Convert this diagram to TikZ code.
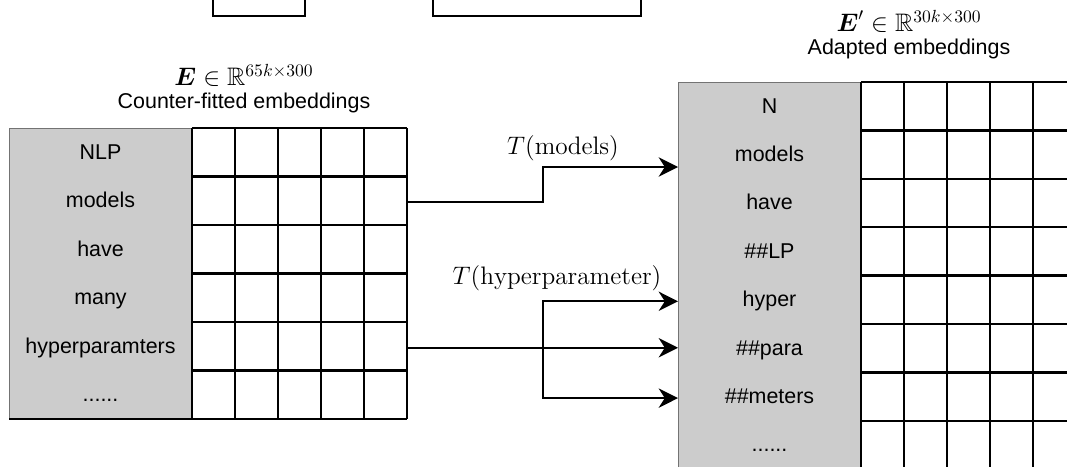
\documentclass[tikz,border=0pt]{standalone}
\usepackage{amsmath,amssymb}
\usepackage{fontspec}
\newfontfamily\arialfont{Liberation Sans}
\usetikzlibrary{arrows.meta}

\newcommand\moretoks{......}

\tikzset{
  word/.style={font=\arialfont\fontsize{12.2}{14}\selectfont, inner sep=0pt,
    text height=8.7pt, text depth=2.5pt},
  heading/.style={font=\arialfont\fontsize{12.2}{14}\selectfont, inner sep=0pt},
  mathlbl/.style={font=\fontsize{14.4}{17}\selectfont, inner sep=0pt},
  cellgrid/.style={line width=1.3pt},
  tokcol/.style={fill=black!20, draw=black!55, line width=0.5pt},
  link/.style={line width=1.3pt, -{Stealth[length=11pt,width=11pt,inset=3.5pt]}},
}

\begin{document}
\begin{tikzpicture}[x=0.02cm, y=-0.02cm]
		\useasboundingbox (0,0) rectangle (1067,466);
		\clip (0,0) rectangle (1067,466);
		
		% boxes of the figure above, cut off by the page
		\draw[line width=0.7pt] (213,-10) -- (213,16) -- (305,16) -- (305,-10);
		\draw[line width=0.7pt] (433,-10) -- (433,16) -- (641,16) -- (641,-10);
		
		% Counter-fitted embeddings
		\draw[tokcol] (9,128) rectangle (192,419);
		\foreach \c in {0,...,5}
		\draw[cellgrid] ({192+43*\c},128) -- ({192+43*\c},419);
		\foreach \r in {0,...,5}
		\draw[cellgrid] (192,{128+48.5*\r}) -- (407,{128+48.5*\r});
		\draw[cellgrid] (9,419) -- (407,419);
		\coordinate (lgrid-e) at (407,128);
		
		\foreach \w [count=\i] in {NLP,models,have,many,hyperparamters,\moretoks}
		\node[word] (src-\i) at (100.5,{129.5+48.5*(\i-0.5)}) {\w};
		
		\node[mathlbl] (etitle) at (244,75) {$\boldsymbol{E}\in\mathbb{R}^{65k\times300}$};
		\node[heading] (ecap) at (244,103) {Counter-fitted embeddings};
		
		% Adapted embeddings
		\draw[tokcol] (678,82) rectangle (861,480);
		\foreach \c in {0,...,5}
		\draw[cellgrid] ({861+43*\c},82) -- ({861+43*\c},480);
		\foreach \r in {0,...,8}
		\draw[cellgrid] (861,{82+48.4*\r}) -- (1080,{82+48.4*\r});
		\coordinate (rgray-w) at (678,82);
		
		\foreach \w [count=\i] in {N,models,have,\#\#LP,hyper,\#\#para,\#\#meters,\moretoks}
		\node[word] (dst-\i) at (769.5,{83.5+48.4*(\i-0.5)}) {\w};
		
		\node[mathlbl] (etitle2) at (909,21) {$\boldsymbol{E}'\in\mathbb{R}^{30k\times300}$};
		\node[heading] (ecap2) at (909,49) {Adapted embeddings};
		
		% Mappings
		\coordinate (fork) at (543,0);
		\coordinate (dstin-models) at (678,167);
		
		\draw[link] (src-2 -| lgrid-e) -- (src-2 -| fork) |- (dstin-models);
		\node[mathlbl] (tmodels) at (563,148) {$T(\mathrm{models})$};
		
		\draw[link] (src-5 -| lgrid-e) -- (src-5 -| rgray-w);
		\draw[link] (src-5 -| fork) |- (dst-5 -| rgray-w);
		\draw[link] (src-5 -| fork) |- (dst-7 -| rgray-w);
		\node[mathlbl] (thyper) at (557,278) {$T(\mathrm{hyperparameter})$};
		
	\end{tikzpicture}
\end{document}
